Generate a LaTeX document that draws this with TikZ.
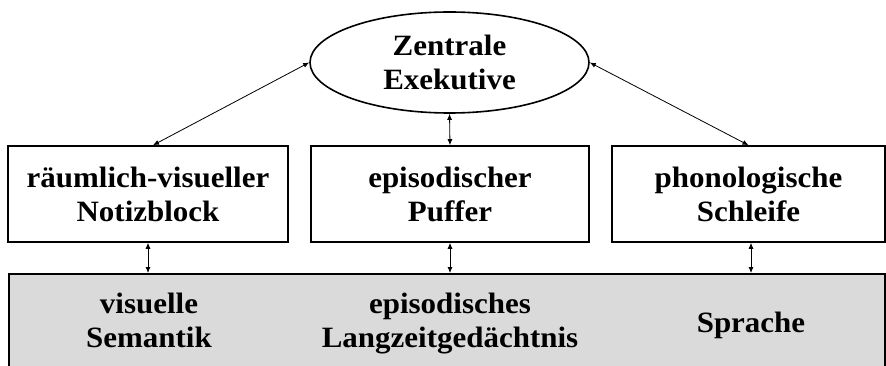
\documentclass[tikz,border=0pt]{standalone}
\usepackage{fontspec}
\setmainfont{Liberation Serif}[FakeStretch=1.05]
\usetikzlibrary{arrows.meta,shapes.geometric,calc}
\definecolor{ltmgray}{RGB}{218,218,218}
\begin{document}
\begin{tikzpicture}[x=1pt,y=-1pt,
  lbl/.style={font=\fontsize{29.5}{34}\selectfont\bfseries, align=center},
  compbox/.style={draw, line width=1.6pt, rectangle, minimum height=96pt, inner sep=0pt},
  link/.style={line width=0.8pt, {Latex[length=6pt,width=5pt]}-{Latex[length=6pt,width=5pt]}}
]
\useasboundingbox (0,0) rectangle (886,366);
\fill[white] (0,0) rectangle (886,366);
\clip (0,0) rectangle (886,366);

\node[ellipse, draw, line width=1.6pt, minimum width=279pt, minimum height=101pt, inner sep=0pt, lbl] (ze) at (449.5,62.5) {Zentrale\\Exekutive};
\node[compbox, minimum width=280pt, lbl] (nb) at (148,194) {räumlich-visueller\\Notizblock};
\node[compbox, minimum width=278pt, lbl] (ep) at (450,194) {episodischer\\Puffer};
\node[compbox, minimum width=273pt, lbl] (pl) at (748.5,194) {phonologische\\Schleife};

\node[draw, line width=1.6pt, fill=ltmgray, minimum width=876pt, minimum height=100pt, inner sep=0pt, anchor=north west] (ltm) at (8,273) {};
\node[lbl, anchor=base] (vs) at (149,347) {visuelle\\Semantik};
\node[lbl, anchor=base] (el) at (450,347) {episodisches\\Langzeitgedächtnis};
\node[lbl, anchor=base] (sp) at (751,332) {Sprache};

\coordinate (nbtop) at ($(nb.north)+(5,0)$);
\coordinate (plbot) at ($(pl.south)+(2.5,0)$);
\draw[link] (ze.west) -- (nbtop);
\draw[link] (ze.east) -- (pl.north);
\draw[link] (ze.south) -- (ep.north);
\draw[link] (nb.south) -- (nb.south |- ltm.north);
\draw[link] (ep.south) -- (ep.south |- ltm.north);
\draw[link] (plbot) -- (plbot |- ltm.north);
\end{tikzpicture}
\end{document}
